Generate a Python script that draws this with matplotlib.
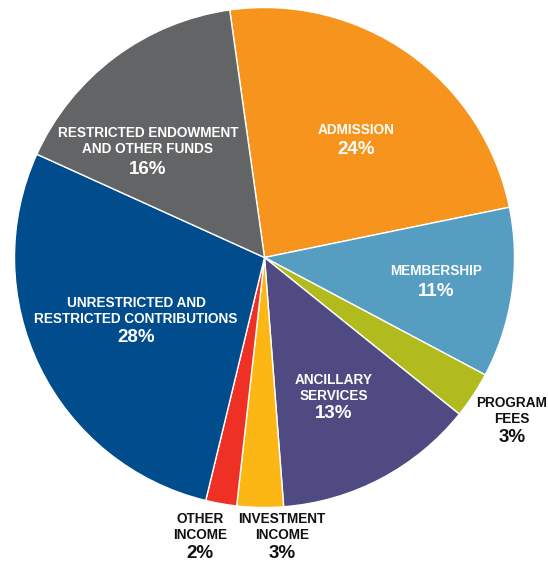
import matplotlib
matplotlib.use("Agg")
import matplotlib.pyplot as plt

categories = ["ADMISSION", "MEMBERSHIP", "PROGRAM\nFEES", "ANCILLARY\nSERVICES",
              "INVESTMENT\nINCOME", "OTHER\nINCOME", "UNRESTRICTED AND\nRESTRICTED CONTRIBUTIONS",
              "RESTRICTED ENDOWMENT\nAND OTHER FUNDS"]
values = [24, 11, 3, 13, 3, 2, 28, 16]
colors = ["#F7941D", "#569DC2", "#B1BB1E", "#4F4A81", "#FDB714", "#EE3124", "#004C8C", "#636466"]

W, H = 548, 566
fig = plt.figure(figsize=(W / 100, H / 100), dpi=100)
cx, cy, R = 264.5, 257.5, 250.0
ax = fig.add_axes([(cx - R) / W, (H - cy - R) / H, 2 * R / W, 2 * R / H])

ax.pie(values, colors=colors, startangle=98, counterclock=False, radius=1,
       wedgeprops=dict(edgecolor="white", linewidth=1.0))
ax.set_xlim(-1, 1)
ax.set_ylim(-1, 1)
ax.set_aspect("auto")
ax.axis("off")

# label placement (pixel centres of name block and percent line), white inside / black outside
label_pos = [(356, 130, 149, "white"), (436, 271, 291, "white"), (512, 411, 438, "#111111"),
             (334, 388, 414, "white"), (282, 527, 553, "#111111"), (200, 527, 553, "#111111"),
             (136, 311, 337, "white"), (148, 141, 169, "white")]

def to_data(px, py):
    return (px - cx) / R, (cy - py) / R

fam = ["Liberation Sans", "DejaVu Sans"]
for name, val, (px, py_name, py_pct, col) in zip(categories, values, label_pos):
    x, y = to_data(px, py_name)
    ax.text(x, y, name, ha="center", va="center", color=col, fontsize=9.8,
            fontweight="bold", family=fam, linespacing=1.2, clip_on=False)
    x, y = to_data(px, py_pct)
    ax.text(x, y, f"{val}%", ha="center", va="center", color=col, fontsize=13.5,
            fontweight="bold", family=fam, clip_on=False)

fig.savefig("out.png", dpi=100)
